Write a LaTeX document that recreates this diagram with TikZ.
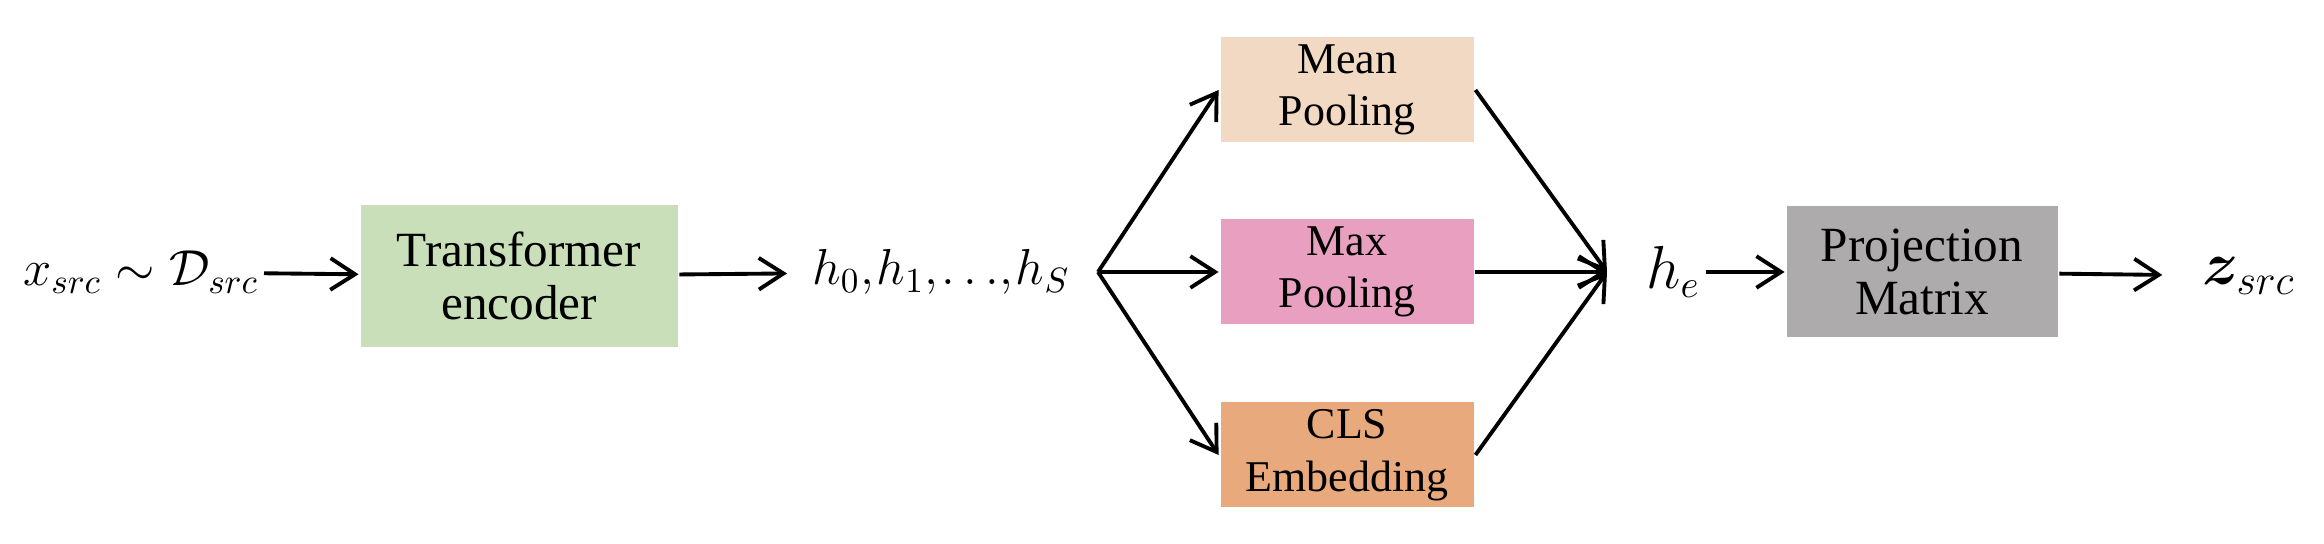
\documentclass[tikz,border=0pt]{standalone}
\usepackage{fontspec}
\setmainfont{Liberation Serif}
\usepackage{amsmath, amssymb, bm}
\usetikzlibrary{positioning, arrows.meta}
\definecolor{encgreen}{HTML}{C9DFB9}
\definecolor{meanpeach}{HTML}{F2D9C4}
\definecolor{maxpink}{HTML}{E9A0C0}
\definecolor{clsorange}{HTML}{E8A97C}
\definecolor{projgray}{HTML}{ADABAC}

\begin{document}
\begin{tikzpicture}[
      every node/.style={font=\fontsize{14}{15}\selectfont},
      block/.style={minimum height=1.05cm, minimum width=2.53cm, align=center, inner sep=0pt},
      poolblock/.style={block, font=\fontsize{12.5}{15}\selectfont},
      lbl/.style={inner sep=1pt},
      >={Straight Barb[length=7pt, width=9pt, line width=1.1pt]}, line width=1.1pt,
    ]
    \useasboundingbox (0,0) rectangle (23.24,5.44);

    % Input and encoder
    \node[lbl, anchor=east] (src) at (2.64, 2.72) {$x_{src} \sim \mathcal{D}_{src}$};
    \node[block, fill=encgreen, minimum width=3.17cm, minimum height=1.42cm] (enc) at (5.19, 2.68) {Transformer\\encoder};
    \draw[->] (src) -- (enc);

    % Hidden states
    \node[lbl, anchor=west] (hid) at (8.07, 2.72) {$h_0{,}\mkern1mu h_1{,}\mkern1mu {\ldots}{,}\mkern1mu h_S$};
    \draw[->, shorten >=0.2cm] (enc) -- (hid);
    \coordinate (fork) at (10.98, 2.72);

    % Pooling options
    \node[poolblock, fill=meanpeach] (mean) at (13.47, 4.54) {Mean\\Pooling};
    \node[poolblock, fill=maxpink] (max) at (13.47, 2.72) {Max\\Pooling};
    \node[poolblock, fill=clsorange] (cls) at (13.47, 0.89) {CLS\\Embedding};
    \draw[->] (fork) -- (mean.west);
    \draw[->] (fork) -- (max.west);
    \draw[->] (fork) -- (cls.west);

    % Merge
    \coordinate (join) at (16.07, 2.72);
    \draw[->] (mean.east) -- (join);
    \draw[->] (max.east) -- (join);
    \draw[->] (cls.east) -- (join);
    \node[lbl, anchor=west, font=\fontsize{16}{16}\selectfont] (he) at (16.41, 2.72) {$h_e$};

    % Projection
    \node[block, fill=projgray, minimum width=2.71cm, minimum height=1.31cm] (proj) at (19.22, 2.72) {Projection\\Matrix};
    \draw[->] (he) -- (proj);
    \node[lbl, font=\fontsize{17}{17}\selectfont] (z) at (22.49, 2.68) {$\bm{z}_{src}$};
    \draw[->, shorten >=0.35cm] (proj) -- (z);
  \end{tikzpicture}
\end{document}
